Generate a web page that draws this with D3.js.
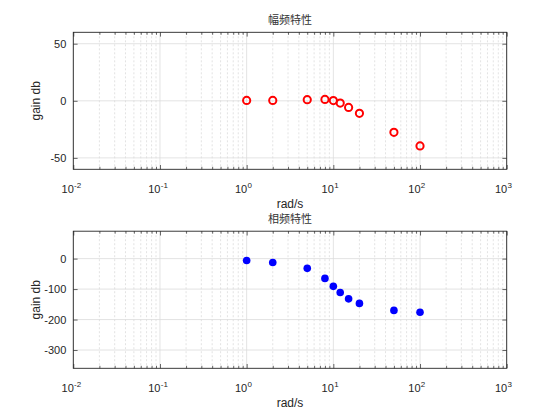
<!DOCTYPE html>
<html>
<head>
<meta charset="utf-8">
<script src="https://cdn.jsdelivr.net/npm/d3@7"></script>
<style>
  body { margin: 0; background: #fff; }
  svg { display: block; font-family: "Liberation Sans", Arial, sans-serif; }
  .title { font-family: "Noto Sans CJK SC", sans-serif; }
</style>
</head>
<body>
<svg id="fig" width="560" height="420"></svg>
<script>
// frequency points (rad/s)
var freq = [1, 2, 5, 8, 10, 12, 15, 20, 50, 100];
// amplitude response (dB)
var gain = [0.3, 0.3, 1.0, 1.2, 0.2, -2.0, -5.8, -11.0, -27.6, -39.5];
// phase response (deg)
var phase = [-6, -12.5, -32, -65, -91, -111, -132, -147, -170, -176];

var xDomain = [1e-2, 1e3],
    xTickExp = [-2, -1, 0, 1, 2, 3];
var gainDomain = [-60, 60],
    gainTicks = [-50, 0, 50];
var phaseDomain = [-360, 90],
    phaseTicks = [-300, -200, -100, 0];

var svg = d3.select("#fig"),
    axColor = "#262626",
    left = 73.3, right = 506.7;

var x = d3.scaleLog().domain(xDomain).range([left, right]);

// minor ticks 2..9 for each decade
var minor = [];
xTickExp.slice(0, -1).forEach(function (e) {
    for (var k = 2; k < 10; k++) minor.push(k * Math.pow(10, e));
});
var major = xTickExp.map(function (e) { return Math.pow(10, e); });

function panel(opts) {
    var top = opts.top, bottom = opts.bottom;
    var y = d3.scaleLinear().domain(opts.domain).range([bottom, top]);
    var g = svg.append("g");

    // minor grid (x only)
    g.selectAll(".mgrid").data(minor).enter().append("line")
        .attr("x1", function (d) { return x(d); })
        .attr("x2", function (d) { return x(d); })
        .attr("y1", top).attr("y2", bottom)
        .attr("stroke", "#d0d0d0").attr("stroke-width", 0.6)
        .attr("stroke-dasharray", "2,2");

    // major grid
    g.selectAll(".xgrid").data(major).enter().append("line")
        .attr("x1", function (d) { return x(d); })
        .attr("x2", function (d) { return x(d); })
        .attr("y1", top).attr("y2", bottom)
        .attr("stroke", "#dcdcdc").attr("stroke-width", 0.8);
    g.selectAll(".ygrid").data(opts.ticks).enter().append("line")
        .attr("x1", left).attr("x2", right)
        .attr("y1", function (d) { return y(d); })
        .attr("y2", function (d) { return y(d); })
        .attr("stroke", "#dcdcdc").attr("stroke-width", 0.8);

    // axes with inward ticks on all four sides
    var tl = 4.3;
    g.append("g").attr("transform", "translate(0," + bottom + ")")
        .call(d3.axisBottom(x).tickValues(major).tickSize(-tl).tickFormat(""));
    g.append("g").attr("transform", "translate(0," + bottom + ")")
        .call(d3.axisBottom(x).tickValues(minor).tickSize(-2.5).tickFormat(""));
    g.append("g").attr("transform", "translate(0," + top + ")")
        .call(d3.axisTop(x).tickValues(major).tickSize(-tl).tickFormat(""));
    g.append("g").attr("transform", "translate(0," + top + ")")
        .call(d3.axisTop(x).tickValues(minor).tickSize(-2.5).tickFormat(""));
    g.append("g").attr("transform", "translate(" + left + ",0)")
        .call(d3.axisLeft(y).tickValues(opts.ticks).tickSize(-tl).tickPadding(7)
            .tickFormat(function (d) { return String(d); }))
        .selectAll("text").attr("font-size", 11).attr("fill", axColor)
        .attr("font-family", "'Liberation Sans', Arial, sans-serif");
    g.append("g").attr("transform", "translate(" + right + ",0)")
        .call(d3.axisRight(y).tickValues(opts.ticks).tickSize(-tl).tickFormat(""));
    g.selectAll(".domain").remove();
    g.selectAll(".tick line").attr("stroke", axColor).attr("stroke-width", 0.7);

    g.append("rect")
        .attr("x", left).attr("y", top)
        .attr("width", right - left).attr("height", bottom - top)
        .attr("fill", "none").attr("stroke", axColor).attr("stroke-width", 0.9);

    // x tick labels 10^n
    g.selectAll(".xlab").data(xTickExp).enter().append("text")
        .attr("x", function (d) { return x(Math.pow(10, d)) + 0.5; })
        .attr("y", bottom + 24)
        .attr("text-anchor", "end")
        .attr("font-size", 11).attr("fill", axColor)
        .text("10");
    g.selectAll(".xexp").data(xTickExp).enter().append("text")
        .attr("x", function (d) { return x(Math.pow(10, d)) + 0.8; })
        .attr("y", bottom + 18.5)
        .attr("font-size", 8).attr("fill", axColor)
        .text(function (d) { return String(d); });

    // labels
    g.append("text")
        .attr("x", (left + right) / 2).attr("y", bottom + 39)
        .attr("text-anchor", "middle").attr("font-size", 12).attr("fill", axColor)
        .text("rad/s");
    g.append("text")
        .attr("transform", "translate(" + 40 + "," + ((top + bottom) / 2) + ") rotate(-90)")
        .attr("text-anchor", "middle").attr("font-size", 12).attr("fill", axColor)
        .text("gain db");
    g.append("text").attr("class", "title")
        .attr("x", (left + right) / 2).attr("y", top - 8)
        .attr("text-anchor", "middle").attr("font-size", 11).attr("fill", "#333")
        .text(opts.title);

    return {g: g, y: y};
}

var p1 = panel({top: 32.3, bottom: 169.3, domain: gainDomain, ticks: gainTicks, title: "幅频特性"});
p1.g.selectAll(".pt").data(freq).enter().append("circle")
    .attr("cx", function (d) { return x(d); })
    .attr("cy", function (d, i) { return p1.y(gain[i]); })
    .attr("r", 3.6)
    .attr("fill", "none").attr("stroke", "#ff0000").attr("stroke-width", 2);

var p2 = panel({top: 231.2, bottom: 368.3, domain: phaseDomain, ticks: phaseTicks, title: "相频特性"});
p2.g.selectAll(".pt").data(freq).enter().append("circle")
    .attr("cx", function (d) { return x(d); })
    .attr("cy", function (d, i) { return p2.y(phase[i]); })
    .attr("r", 3.8)
    .attr("fill", "#0000ff");
</script>
</body>
</html>
